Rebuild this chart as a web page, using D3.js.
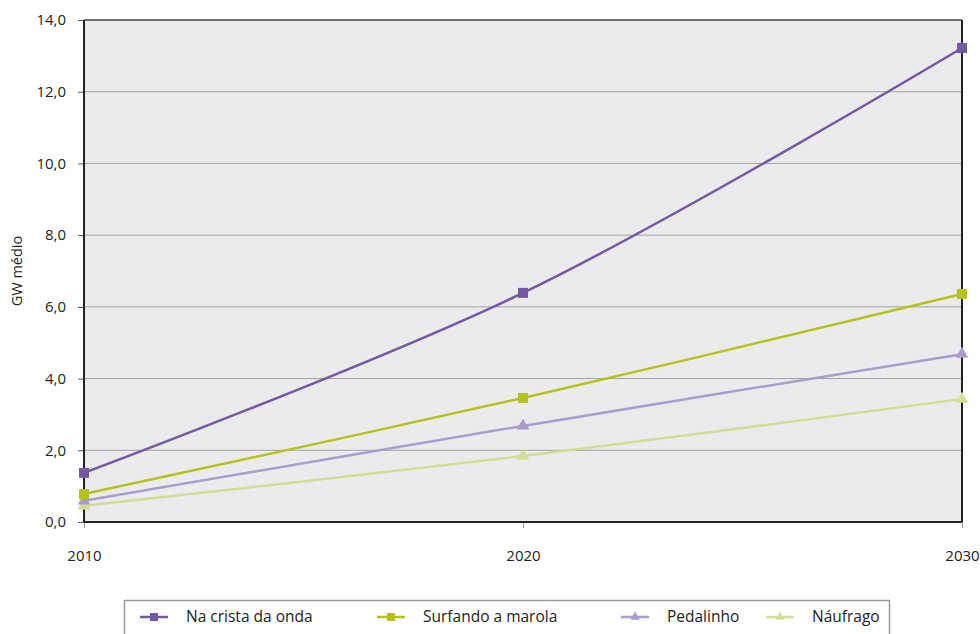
<!DOCTYPE html>
<html lang="pt">
<head>
    <meta charset="UTF-8">
    <title>GW médio</title>
    <script src="https://d3js.org/d3.v7.min.js"></script>
    <style>
        html, body {
            margin: 0;
            background: #fff;
            font-family: "Open Sans", sans-serif;
        }
    </style>
</head>
<body>
    <div id="vis"></div>
    <script>

        // data
        var years = [2010, 2020, 2030];
        var naCrista = [1.37, 6.39, 13.22];
        var surfando = [0.78, 3.46, 6.36];
        var pedalinho = [0.59, 2.68, 4.68];
        var naufrago = [0.45, 1.84, 3.43];
        var yTicks = [0, 2, 4, 6, 8, 10, 12, 14];

        var series = [
            {name: "Na crista da onda", values: naCrista, color: "#7458a3", marker: "square"},
            {name: "Surfando a marola", values: surfando, color: "#b6c11c", marker: "square"},
            {name: "Pedalinho", values: pedalinho, color: "#aa9dcd", marker: "triangle"},
            {name: "Náufrago", values: naufrago, color: "#d5dc96", marker: "triangle"}
        ];

        var W = 980, H = 634;
        var margin = {top: 20, left: 84, right: 18, bottom: 112};
        var width = W - margin.left - margin.right;
        var height = H - margin.top - margin.bottom;

        var svg = d3.select("#vis").append("svg")
            .attr("width", W)
            .attr("height", H);

        var g = svg.append("g")
            .attr("transform", "translate(" + margin.left + "," + margin.top + ")");

        var x = d3.scaleLinear().domain([2010, 2030]).range([0, width]);
        var y = d3.scaleLinear().domain([0, 14]).range([height, 0]);

        // plot background
        g.append("rect")
            .attr("width", width)
            .attr("height", height)
            .attr("fill", "#ebebed");

        // gridlines
        g.selectAll(".grid")
            .data(yTicks.filter(function(d) { return d > 0 && d < 14; }))
            .enter().append("line")
            .attr("x1", 0).attr("x2", width)
            .attr("y1", function(d) { return y(d); })
            .attr("y2", function(d) { return y(d); })
            .attr("stroke", "#a3a3a3")
            .attr("stroke-width", 1);

        // y axis
        var yAxis = d3.axisLeft(y)
            .tickValues(yTicks)
            .tickSize(6)
            .tickPadding(12)
            .tickFormat(function(d) { return d3.format(".1f")(d).replace(".", ","); });

        var ya = g.append("g").call(yAxis);
        ya.select(".domain").remove();
        ya.selectAll(".tick line").attr("stroke", "#555");
        ya.selectAll("text")
            .attr("font-family", "Open Sans, sans-serif")
            .attr("font-size", 15)
            .attr("fill", "#222");

        // x axis
        var xAxis = d3.axisBottom(x)
            .tickValues(years)
            .tickSize(6)
            .tickPadding(22)
            .tickFormat(d3.format("d"));

        var xa = g.append("g")
            .attr("transform", "translate(0," + height + ")")
            .call(xAxis);
        xa.select(".domain").remove();
        xa.selectAll(".tick line").attr("stroke", "#999");
        xa.selectAll("text")
            .attr("font-family", "Open Sans, sans-serif")
            .attr("font-size", 15)
            .attr("fill", "#222");

        // frame
        g.append("line").attr("x1", 0).attr("x2", width).attr("y1", 0).attr("y2", 0)
            .attr("stroke", "#444").attr("stroke-width", 1.5);
        g.append("line").attr("x1", 0).attr("x2", 0).attr("y1", 0).attr("y2", height)
            .attr("stroke", "#222").attr("stroke-width", 2);
        g.append("line").attr("x1", width).attr("x2", width).attr("y1", 0).attr("y2", height)
            .attr("stroke", "#222").attr("stroke-width", 2);
        g.append("line").attr("x1", 0).attr("x2", width).attr("y1", height).attr("y2", height)
            .attr("stroke", "#222").attr("stroke-width", 2);

        // axis title
        svg.append("text")
            .attr("transform", "translate(22," + (margin.top + y(7)) + ") rotate(-90)")
            .attr("text-anchor", "middle")
            .attr("font-family", "Open Sans, sans-serif")
            .attr("font-size", 14.5)
            .attr("fill", "#222")
            .text("GW médio");

        var line = d3.line()
            .x(function(d, i) { return x(years[i]); })
            .y(function(d) { return y(d); })
            .curve(d3.curveCatmullRom.alpha(0.5));

        var square = d3.symbol().type(d3.symbolSquare).size(100);
        var triangle = d3.symbol().type(d3.symbolTriangle).size(70);

        // draw back-to-front so the top series sits on top
        series.slice().reverse().forEach(function(s) {
            g.append("path")
                .datum(s.values)
                .attr("fill", "none")
                .attr("stroke", s.color)
                .attr("stroke-width", 2.5)
                .attr("d", line);

            g.selectAll(null)
                .data(s.values)
                .enter().append("path")
                .attr("transform", function(d, i) { return "translate(" + x(years[i]) + "," + y(d) + ")"; })
                .attr("d", s.marker === "square" ? square() : triangle())
                .attr("fill", s.color);
        });

        // legend
        var legendX = [140, 377, 621, 766];
        var legend = svg.append("g");

        legend.append("rect")
            .attr("x", 124.5).attr("y", 600.5)
            .attr("width", 765).attr("height", 50)
            .attr("fill", "#fff")
            .attr("stroke", "#999")
            .attr("stroke-width", 1.5);

        series.forEach(function(s, i) {
            var li = legend.append("g")
                .attr("transform", "translate(" + legendX[i] + ",617)");
            li.append("line")
                .attr("x1", 0).attr("x2", 28)
                .attr("stroke", s.color)
                .attr("stroke-width", 2.5);
            li.append("path")
                .attr("transform", "translate(14,0)")
                .attr("d", s.marker === "square" ? d3.symbol().type(d3.symbolSquare).size(64)() : d3.symbol().type(d3.symbolTriangle).size(40)())
                .attr("fill", s.color);
            li.append("text")
                .attr("x", 46)
                .attr("y", 5)
                .attr("font-family", "Open Sans, sans-serif")
                .attr("font-size", 15.5)
                .attr("fill", "#222")
                .text(s.name);
        });

    </script>
</body>
</html>
